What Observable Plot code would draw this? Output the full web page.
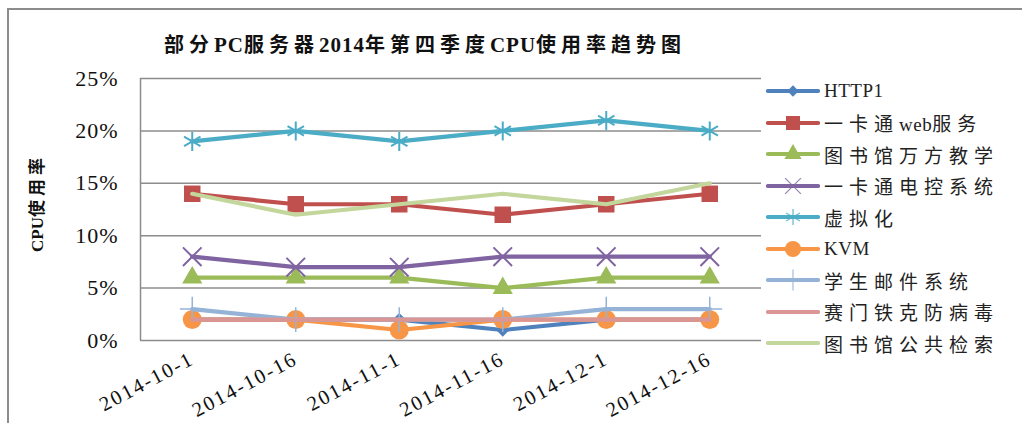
<!DOCTYPE html>
<html><head><meta charset="utf-8">
<script src="https://cdn.jsdelivr.net/npm/d3@7"></script>
<script src="https://cdn.jsdelivr.net/npm/@observablehq/plot@0.6"></script>
<style>
html,body{margin:0;padding:0;background:#fff;}
#wrap{position:relative;width:1022px;height:423px;overflow:hidden;background:#fff;}
#border{position:absolute;left:7px;top:8px;right:-10px;bottom:-10px;border:2px solid #8c8c8c;}
#chart{position:absolute;left:0;top:0;}
#title{position:absolute;top:30px;left:0;width:850px;text-align:center;font-weight:bold;font-size:20px;line-height:28px;white-space:nowrap;color:#111;}
#ylabel{position:absolute;left:37px;top:203px;transform:translate(-50%,-50%) rotate(-90deg);font-weight:bold;font-size:17px;line-height:22px;white-space:nowrap;color:#111;}
#legend{position:absolute;left:766px;top:0;}
.row{position:absolute;left:0;height:30px;display:flex;align-items:center;white-space:nowrap;}
.row svg{display:block;margin-right:4px;}
.lat{font-family:'Liberation Serif',serif;}
.cjk{font-family:'Noto Sans CJK SC',sans-serif;}
#chart svg [aria-label="x-axis tick label"] text{letter-spacing:2px;}
#chart svg [aria-label="y-axis tick label"] text{letter-spacing:1px;}
</style>
</head><body>
<div id="wrap">
  <div id="border"></div>
  <div id="chart"></div>
  <div id="title"></div>
  <div id="ylabel"></div>
  <div id="legend"></div>
</div>
<script>
// ---- data ----
const dates = ["2014-10-1", "2014-10-16", "2014-11-1", "2014-11-16", "2014-12-1", "2014-12-16"];
const seriesNames = ["HTTP1", "一卡通web服务", "图书馆万方教学", "一卡通电控系统", "虚拟化", "KVM", "学生邮件系统", "赛门铁克防病毒", "图书馆公共检索"];
const http1      = [2, 2, 2, 1, 2, 2];
const ecardWeb   = [14, 13, 13, 12, 13, 14];
const libWanfang = [6, 6, 6, 5, 6, 6];
const ecardPower = [8, 7, 7, 8, 8, 8];
const virtual    = [19, 20, 19, 20, 21, 20];
const kvm        = [2, 2, 1, 2, 2, 2];
const studentMail= [3, 2, 2, 2, 3, 3];
const symantec   = [2, 2, 2, 2, 2, 2];
const libSearch  = [14, 12, 13, 14, 13, 15];
const yTicks = [0, 5, 10, 15, 20, 25];
const titleText = "部分PC服务器2014年第四季度CPU使用率趋势图";
const yLabelText = "CPU使用率";

// ---- styles ----
const seriesValues = [http1, ecardWeb, libWanfang, ecardPower, virtual, kvm, studentMail, symantec, libSearch];
const colors = ["#4F81BD", "#C0504D", "#9BBB59", "#8064A2", "#4BACC6", "#F79646", "#95B3D7", "#D99694", "#C3D69B"];
const symbols = ["diamond2", "square", "triangle", "times", "asterisk", "circle", "plus", null, null];
const radii   = [6, 9.3, 7.5, 8.5, 9, 9.5, 8, 0, 0];
const strokeSym = {times: 2, asterisk: 2, plus: 1.5};
const d3Sym = {diamond2: d3.symbolDiamond2, square: d3.symbolSquare, triangle: d3.symbolTriangle, times: d3.symbolTimes, asterisk: d3.symbolAsterisk, circle: d3.symbolCircle, plus: d3.symbolPlus};

const marks = [
  Plot.gridY(yTicks, {stroke: "#8c8c8c", strokeOpacity: 1, strokeWidth: 1.5}),
  Plot.ruleX([-0.5], {stroke: "#8c8c8c", strokeWidth: 1.5}),
  Plot.axisY(yTicks, {tickSize: 0, tickPadding: 22, fontSize: 22, tickFormat: d => d + "%", label: null}),
  Plot.axisX(dates.map((d, i) => i), {tickSize: 0, tickRotate: -28, tickPadding: 17, fontSize: 20.5, tickFormat: i => dates[i], label: null})
];
seriesValues.forEach((vals, k) => {
  const data = vals.map((v, i) => ({i, v}));
  marks.push(Plot.line(data, {x: "i", y: "v", stroke: colors[k], strokeWidth: 4.2, strokeLinejoin: "round", strokeLinecap: "round"}));
  const s = symbols[k];
  if (s) {
    if (strokeSym[s]) {
      marks.push(Plot.dot(data, {x: "i", y: "v", symbol: s, r: radii[k], fill: "none", stroke: colors[k], strokeWidth: strokeSym[s]}));
    } else {
      marks.push(Plot.dot(data, {x: "i", y: "v", symbol: s, r: radii[k], fill: colors[k], stroke: "none"}));
    }
  }
});

const chart = Plot.plot({
  width: 1022, height: 423,
  marginLeft: 140, marginRight: 261, marginTop: 78, marginBottom: 83,
  x: {type: "linear", domain: [-0.5, dates.length - 0.5]},
  y: {domain: [0, 25]},
  style: {fontFamily: "'Liberation Serif', 'Noto Sans CJK SC', serif", color: "#111", background: "transparent", overflow: "visible"},
  marks
});
document.getElementById("chart").appendChild(chart);

// ---- text helpers ----
function fillRuns(el, str, cjkSize, cjkSpacing, latSize, latSpacing) {
  const parts = str.match(/[\u4e00-\u9fff]+|[^\u4e00-\u9fff]+/g);
  parts.forEach(p => {
    const span = document.createElement("span");
    const isCjk = /[\u4e00-\u9fff]/.test(p);
    span.className = isCjk ? "cjk" : "lat";
    span.style.fontSize = (isCjk ? cjkSize : latSize) + "px";
    span.style.letterSpacing = (isCjk ? cjkSpacing : latSpacing) + "px";
    span.textContent = p;
    el.appendChild(span);
  });
}
fillRuns(document.getElementById("title"), titleText, 20, 5, 21, 1);
fillRuns(document.getElementById("ylabel"), yLabelText, 17, 4, 17, 0);

// ---- legend ----
const legend = document.getElementById("legend");
seriesNames.forEach((name, k) => {
  const row = document.createElement("div");
  row.className = "row";
  row.style.top = (91 + 31.5 * k - 15) + "px";
  const svg = d3.create("svg").attr("width", 54).attr("height", 24);
  svg.append("line").attr("x1", 2).attr("x2", 52).attr("y1", 12).attr("y2", 12)
    .attr("stroke", colors[k]).attr("stroke-width", 4.2).attr("stroke-linecap", "round");
  const s = symbols[k];
  if (s) {
    const r = radii[k] * 0.85;
    const p = svg.append("path").attr("transform", "translate(27,12)")
      .attr("d", d3.symbol(d3Sym[s], Math.PI * r * r)());
    if (strokeSym[s]) p.attr("fill", "none").attr("stroke", colors[k]).attr("stroke-width", 1.3).attr("opacity", 0.8);
    else p.attr("fill", colors[k]);
  }
  row.appendChild(svg.node());
  const txt = document.createElement("span");
  txt.style.color = "#222";
  fillRuns(txt, name, 19, 6, 19, 0.5);
  row.appendChild(txt);
  legend.appendChild(row);
});
</script>
</body></html>
